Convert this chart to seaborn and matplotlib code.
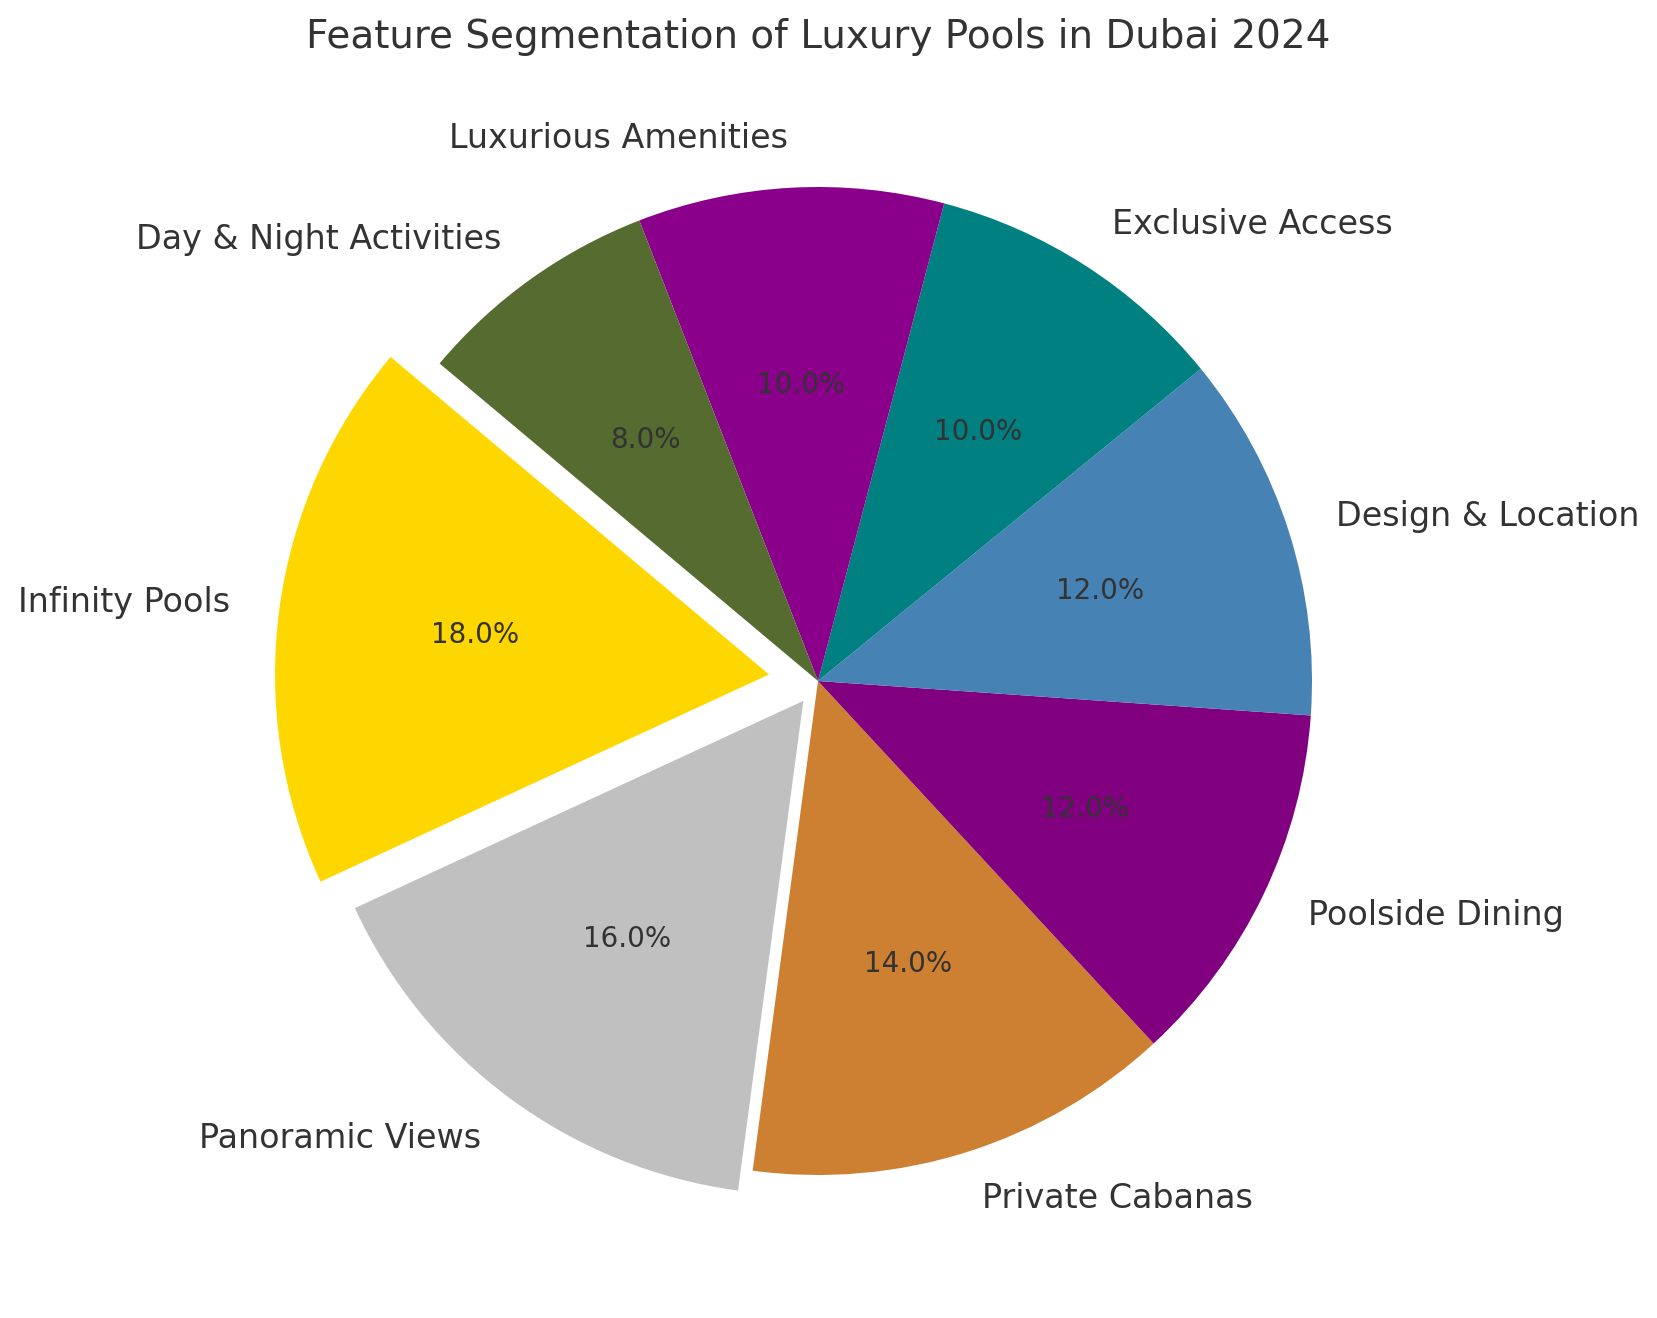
import matplotlib
matplotlib.use("Agg")
import matplotlib.pyplot as plt
import seaborn as sns

sns.set_theme(style="white")

features = ["Infinity Pools", "Panoramic Views", "Private Cabanas", "Poolside Dining",
            "Design & Location", "Exclusive Access", "Luxurious Amenities", "Day & Night Activities"]
shares = [18, 16, 14, 12, 12, 10, 10, 8]
colors = ["#FFD700", "#C0C0C0", "#CD7F32", "#800080", "#4682B4", "#008080", "#8B008B", "#556B2F"]
explode = [0.1, 0.05, 0, 0, 0, 0, 0, 0]

W, H = 1658, 1318
fig = plt.figure(figsize=(W / 200, H / 200), dpi=200)
ax = fig.add_axes([0, 0, 1, 1])
wedges, texts, autotexts = ax.pie(shares, labels=features, colors=colors, explode=explode,
                                  autopct="%1.1f%%", startangle=140,
                                  wedgeprops={"linewidth": 0, "edgecolor": "none"},
                                  textprops={"fontsize": 12, "color": "#333333"})
for t in autotexts:
    t.set_fontsize(10)

R = 494.0
cx, cy = 818.0, 681.0
ax.set_xlim(-cx / R, (W - cx) / R)
ax.set_ylim(-(H - cy) / R, cy / R)
ax.set_aspect("equal", adjustable="box")
ax.axis("off")
fig.text(818 / W, 1 - 37 / H, "Feature Segmentation of Luxury Pools in Dubai 2024",
         fontsize=14, color="#333333", ha="center", va="center")
fig.savefig("out.png", dpi=200)
